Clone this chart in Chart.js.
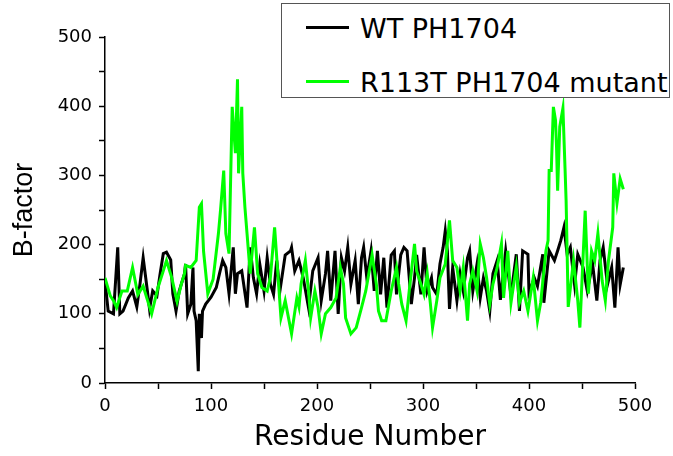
<!DOCTYPE html>
<html>
<head>
<meta charset="utf-8">
<script src="https://cdn.jsdelivr.net/npm/chart.js@4.4.1/dist/chart.umd.min.js"></script>
<style>
  body{ margin:0; background:#fff; }
  #wrap{ position:relative; width:673px; height:456px; }
  #legend{ position:absolute; left:281px; top:3px; width:389px; height:95px; border:1.5px solid #555; box-sizing:border-box; background:#fff; font-family:"DejaVu Sans",sans-serif; font-size:27px; color:#000; }
  .swatch{ position:absolute; left:24px; width:43px; height:3px; }
  .label{ position:absolute; left:78px; white-space:nowrap; line-height:1; }
</style>
</head>
<body>
<div id="wrap">
  <canvas id="chart"></canvas>
  <div id="legend"></div>
</div>
<script>
const wtResidue = [0,3,8,12,14,17,22,26,30,33,36,40,42,45,49,52,55,58,62,64,67,70,75,76,78,81,83,84,86,88,89,91,92,95,100,105,108,111,114,117,121,123,125,129,134,137,140,143,146,150,153,156,159,162,165,170,175,176,179,183,187,192,196,201,204,208,210,213,217,220,223,226,229,232,236,239,242,244,247,251,254,257,260,263,266,270,273,275,279,282,285,289,292,294,298,301,304,308,309,313,316,319,321,323,325,328,332,335,338,342,344,347,351,354,357,360,363,366,370,373,378,383,388,391,394,399,400,405,408,413,414,419,424,427,430,433,436,439,443,446,451,455,460,464,467,470,474,478,481,484,486,489];
const wtBfactor = [148,104,100,196,100,104,123,133,110,143,181,133,107,133,126,158,187,189,178,129,104,133,158,172,100,114,167,104,90,17,100,65,104,114,124,138,158,177,167,129,196,129,158,162,109,196,152,129,172,133,181,143,128,177,133,185,191,196,162,177,152,109,162,181,119,158,191,119,191,100,181,162,196,143,177,114,181,196,152,191,133,191,128,181,109,185,191,128,185,196,191,114,152,185,128,196,133,152,138,128,172,196,220,191,107,167,119,158,133,181,191,133,172,123,152,133,104,158,177,120,191,126,186,104,191,186,130,152,140,186,116,191,177,191,206,225,186,196,142,186,167,133,172,119,177,196,142,167,109,196,142,167];

const mutResidue = [0,5,8,11,16,21,26,31,36,41,44,50,55,58,63,68,72,75,76,81,86,89,91,93,97,102,107,109,112,114,117,120,123,125,126,129,130,132,134,137,141,144,148,153,156,160,166,170,176,181,183,185,189,192,194,198,201,204,208,213,218,222,225,227,232,237,242,246,252,256,258,261,265,270,275,277,280,284,287,292,294,298,301,304,307,309,313,316,321,325,328,332,335,338,342,344,347,351,354,357,360,363,366,370,374,376,380,383,388,391,395,399,404,408,411,416,418,419,421,423,425,426,427,429,432,434,435,437,442,446,448,453,456,459,462,465,469,472,475,479,480,483,486,489];
const mutBfactor = [152,126,119,109,133,133,167,128,140,115,100,138,162,177,152,118,143,158,170,167,177,254,259,190,129,150,216,250,307,216,187,399,332,439,303,399,303,254,216,158,225,158,138,133,152,225,94,119,71,123,110,143,177,133,94,133,109,71,100,109,123,167,143,94,71,80,109,133,185,143,104,90,90,133,167,143,114,90,133,201,162,143,128,158,114,80,119,152,172,235,177,167,133,167,90,143,162,133,201,181,152,114,143,167,201,123,191,116,168,116,133,104,152,90,116,191,206,307,307,399,380,340,278,370,397,310,264,110,177,119,80,249,129,191,177,216,148,119,177,225,303,260,295,280];

const xTicks = [0,100,200,300,400,500];
const yTicks = [0,100,200,300,400,500];

const seriesNames = ["WT PH1704","R113T PH1704 mutant"];
const seriesColors = ["#000000","#00ff00"];

function toPoints(xs, ys){ return xs.map((x,i)=>({x, y: ys[i]})); }

const tickFont = { family: "DejaVu Sans", size: 18 };

const chart = new Chart(document.querySelector("#chart"), {
  type: "line",
  data: {
    datasets: [
      { label: seriesNames[0], data: toPoints(wtResidue, wtBfactor), borderColor: seriesColors[0], borderWidth: 3, pointRadius: 0, tension: 0, order: 2 },
      { label: seriesNames[1], data: toPoints(mutResidue, mutBfactor), borderColor: seriesColors[1], borderWidth: 3, pointRadius: 0, tension: 0, order: 1 }
    ]
  },
  options: {
    responsive: true,
    maintainAspectRatio: false,
    animation: false,
    layout: { padding: { left: 0, top: 37, right: 38, bottom: 0 } },
    plugins: { legend: { display: false }, tooltip: { enabled: false } },
    scales: {
      x: {
        type: "linear", min: 0, max: 500,
        afterFit: s => { s.height = 73; },
        border: { color: "#000", width: 1.5 },
        grid: { drawOnChartArea: false, tickLength: 6, tickColor: "#000", tickWidth: 1.5 },
        ticks: { stepSize: 50, autoSkip: false, maxRotation: 0, padding: 7, color: "#000", font: tickFont,
          callback: v => xTicks.includes(v) ? v : "" },
        title: { display: true, text: "Residue Number", color: "#000",
          font: { family: "DejaVu Sans", size: 28, lineHeight: 1.2 }, padding: { top: 0, bottom: 1 } }
      },
      y: {
        min: 0, max: 500,
        afterFit: s => { s.width = 105; },
        border: { color: "#000", width: 1.5 },
        grid: { drawOnChartArea: false, tickLength: 6, tickColor: "#000", tickWidth: 1.5 },
        ticks: { stepSize: 50, autoSkip: false, padding: 7, color: "#000", font: tickFont,
          callback: v => yTicks.includes(v) ? v : "" },
        title: { display: true, text: "B-factor", color: "#000",
          font: { family: "Liberation Sans", size: 27, lineHeight: 1.2 }, padding: { top: 8, bottom: 0 } }
      }
    }
  }
});

// legend box, drawn as html on top of the plot
const legendEl = document.querySelector("#legend");
const rows = [23.5, 77.5];
chart.data.datasets.forEach((ds, i) => {
  legendEl.insertAdjacentHTML("beforeend",
    `<div class="swatch" style="top:${rows[i]-1.5}px;background:${ds.borderColor}"></div>
     <div class="label" style="top:${rows[i]-13}px">${ds.label}</div>`);
});
</script>
</body>
</html>
